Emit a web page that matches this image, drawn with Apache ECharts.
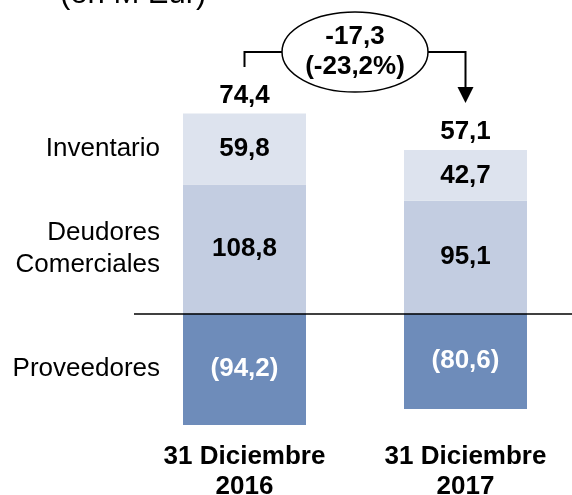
<!DOCTYPE html>
<html>
<head>
<meta charset="utf-8">
<script src="https://cdn.jsdelivr.net/npm/echarts@6/dist/echarts.min.js"></script>
<style>
  html, body { margin: 0; padding: 0; background: #fff; }
  #chart { width: 572px; height: 495px; }
</style>
</head>
<body>
<div id="chart"></div>
<script>
// data
var categories = ['31 Diciembre\n2016', '31 Diciembre\n2017'];
var deudores = [108.8, 95.1];
var inventario = [59.8, 42.7];
var proveedores = [-94.2, -80.6];
var totals = [74.4, 57.1];
var change = -17.3,
    changePct = -23.2;

var FONT = '"Liberation Sans", Arial, sans-serif';
var colors = ['#c3cde1', '#dde3ee', '#6e8cba'];

function fmt(v) {
    var s = Math.abs(v).toFixed(1).replace('.', ',');
    return v < 0 ? '(' + s + ')' : s;
}

function _map(arr, fn) {
    var out = [];
    for (var i = 0; i < arr.length; i++) out.push(fn(arr[i], i));
    return out;
}

// visible stacked bars
function barSeries(name, data, color, textColor) {
    return {
        name: name,
        type: 'bar',
        stack: 'wc',
        barWidth: 123,
        barGap: '-100%',
        data: data,
        itemStyle: { color: color },
        label: {
            show: true,
            position: 'inside',
            fontFamily: FONT,
            fontSize: 26,
            fontWeight: 'bold',
            color: textColor,
            formatter: function (p) { return fmt(p.value); }
        }
    };
}

// transparent copies, only to carry labels
function ghostSeries(name, stack, data, label) {
    return {
        name: name,
        type: 'bar',
        stack: stack,
        barWidth: 123,
        barGap: '-100%',
        silent: true,
        data: data,
        itemStyle: { color: 'rgba(0,0,0,0)' },
        label: label
    };
}

function rowLabel(text) {
    return {
        show: true,
        position: 'left',
        distance: 23,
        fontFamily: FONT,
        fontSize: 26,
        lineHeight: 32,
        color: '#000',
        formatter: function (p) { return p.dataIndex === 0 ? text : ''; }
    };
}

var series = [
    barSeries('Deudores', deudores, colors[0], '#000'),
    barSeries('Inventario', inventario, colors[1], '#000'),
    barSeries('Proveedores', proveedores, colors[2], '#fff'),
    ghostSeries('lbl_deudores', 'names', deudores, rowLabel('Deudores\nComerciales')),
    ghostSeries('lbl_inventario', 'names', inventario, rowLabel('Inventario')),
    ghostSeries('lbl_proveedores', 'names', proveedores, rowLabel('Proveedores')),
    ghostSeries('total', 'totals',
        _map(categories, function (c, i) { return deudores[i] + inventario[i]; }),
        {
            show: true,
            position: 'top',
            distance: 5,
            fontFamily: FONT,
            fontSize: 26,
            fontWeight: 'bold',
            color: '#000',
            formatter: function (p) { return fmt(totals[p.dataIndex]); }
        })
];

// zero line
series[0].markLine = {
    silent: true,
    symbol: ['none', 'none'],
    label: { show: false },
    lineStyle: { color: '#000', width: 1.5, type: 'solid' },
    data: [{ yAxis: 0 }]
};

var chart = echarts.init(document.getElementById('chart'));
chart.setOption({
    animation: false,
    title: {
        text: '(en M Eur)',
        left: 55,
        top: -26,
        textStyle: { fontFamily: FONT, fontSize: 31, fontWeight: 'normal', color: '#000' }
    },
    grid: { left: 134, top: 100, width: 442, height: 332, outerBoundsMode: 'none', containLabel: false },
    xAxis: {
        type: 'category',
        data: categories,
        axisLine: { show: false },
        axisTick: { show: false },
        axisLabel: {
            margin: 10,
            fontFamily: FONT,
            fontSize: 26,
            fontWeight: 'bold',
            lineHeight: 30,
            color: '#000'
        }
    },
    yAxis: {
        type: 'value',
        min: -100,
        max: 180,
        show: false
    },
    series: series
});

// change annotation between the two totals
var x1 = chart.convertToPixel({ gridIndex: 0 }, [0, 0])[0];
var x2 = chart.convertToPixel({ gridIndex: 0 }, [1, 0])[0];
var cx = (x1 + x2) / 2, cy = 52, rx = 73, ry = 40;

chart.setOption({
    graphic: [
        {
            type: 'polyline',
            shape: { points: [[x1, 67], [x1, cy], [cx - rx, cy]] },
            style: { stroke: '#000', lineWidth: 2, fill: null }
        },
        {
            type: 'polyline',
            shape: { points: [[cx + rx, cy], [x2, cy], [x2, 88]] },
            style: { stroke: '#000', lineWidth: 2, fill: null }
        },
        {
            type: 'polygon',
            shape: { points: [[x2 - 8, 87], [x2 + 8, 87], [x2, 103]] },
            style: { fill: '#000' }
        },
        {
            type: 'ellipse',
            shape: { cx: cx, cy: cy, rx: rx, ry: ry },
            style: { stroke: '#000', lineWidth: 1.5, fill: '#fff' }
        },
        {
            type: 'text',
            x: cx,
            y: cy,
            style: {
                text: change.toFixed(1).replace('.', ',') + '\n(' + changePct.toFixed(1).replace('.', ',') + '%)',
                align: 'center',
                verticalAlign: 'middle',
                fontFamily: FONT,
                fontSize: 26,
                fontWeight: 'bold',
                lineHeight: 30,
                fill: '#000'
            }
        }
    ]
});
</script>
</body>
</html>
